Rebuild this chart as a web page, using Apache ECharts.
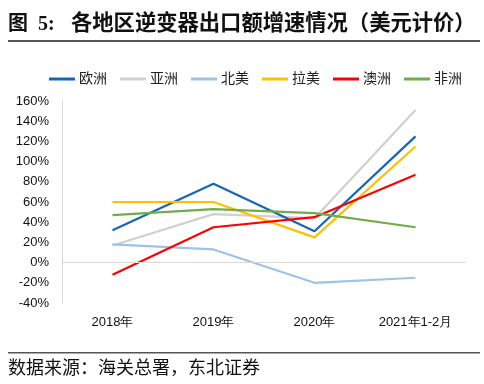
<!DOCTYPE html>
<html><head><meta charset="utf-8">
<script src="https://cdn.jsdelivr.net/npm/echarts@6/dist/echarts.min.js"></script>
<style>html,body{margin:0;padding:0;background:#fff}#c{width:484px;height:384px}</style>
</head><body><div id="c"></div>
<script>
const categories = ['2018年', '2019年', '2020年', '2021年1-2月'];
const seriesNames = ['欧洲', '亚洲', '北美', '拉美', '澳洲', '非洲'];
const europe = [32, 78, 31, 125];
const asia = [17, 48, 44, 151];
const northAmerica = [18, 13, -20, -15];
const latinAmerica = [60, 60, 25, 115];
const oceania = [-12, 35, 45, 87];
const africa = [47, 53, 49, 35];
const yTicks = { min: -40, max: 160, interval: 20 };
const colors = ['#1366B8', '#D0D0D0', '#9DC3E6', '#FFC000', '#FF0000', '#70AD47'];
const values = [europe, asia, northAmerica, latinAmerica, oceania, africa];

const chart = echarts.init(document.getElementById('c'), null, { renderer: 'canvas' });
const cjk = '"Liberation Serif", "Noto Sans CJK SC", serif';
chart.setOption({
  animation: false,
  backgroundColor: '#fff',
  color: colors,
  graphic: [
    { type: 'text', left: 8, top: 15, style: { text: '图  5:', font: 'bold 20px ' + cjk, fill: '#111' } },
    { type: 'text', left: 71, top: 14, style: { text: '各地区逆变器出口额增速情况（美元计价）', font: 'bold 21.3px ' + cjk, fill: '#111' } },
    { type: 'rect', shape: { x: 8, y: 40, width: 472, height: 2 }, style: { fill: '#555' } },
    { type: 'rect', shape: { x: 8, y: 352, width: 472, height: 1.5 }, style: { fill: '#555' } },
    { type: 'text', left: 8, top: 360, style: { text: '数据来源：海关总署，东北证券', font: '18px ' + cjk, fill: '#111' } }
  ],
  legend: {
    top: 67, left: 44,
    itemWidth: 26, itemHeight: 3, itemGap: 13,
    icon: 'rect',
    textStyle: { fontSize: 14, color: '#222', fontFamily: cjk, padding: [0, 0, 0, -1] },
    data: seriesNames
  },
  grid: { left: 62, right: 18, top: 101, bottom: 81, containLabel: false },
  xAxis: {
    type: 'category', data: categories, boundaryGap: true,
    axisLine: { show: false, onZero: false }, axisTick: { show: false },
    axisLabel: { color: '#111', fontSize: 13, fontFamily: 'Liberation Sans, Arial', margin: 13 }
  },
  yAxis: {
    type: 'value', min: yTicks.min, max: yTicks.max, interval: yTicks.interval,
    axisLine: { show: true, lineStyle: { color: '#D9D9D9', width: 1 } },
    axisTick: { show: false },
    splitLine: { show: false },
    axisLabel: { formatter: '{value}%', color: '#111', fontSize: 13, fontFamily: 'Liberation Sans, Arial', margin: 13 }
  },
  series: seriesNames.map((n, i) => ({
    name: n, type: 'line', data: values[i], symbol: 'none',
    lineStyle: { width: 2.2, color: colors[i] },
    itemStyle: { color: colors[i] },
    z: i === 1 ? 1 : 2,
    markLine: i === 0 ? { silent: true, symbol: 'none', label: { show: false },
      lineStyle: { color: '#D9D9D9', width: 1, type: 'solid' }, data: [{ yAxis: 0 }] } : undefined
  }))
});
</script></body></html>
